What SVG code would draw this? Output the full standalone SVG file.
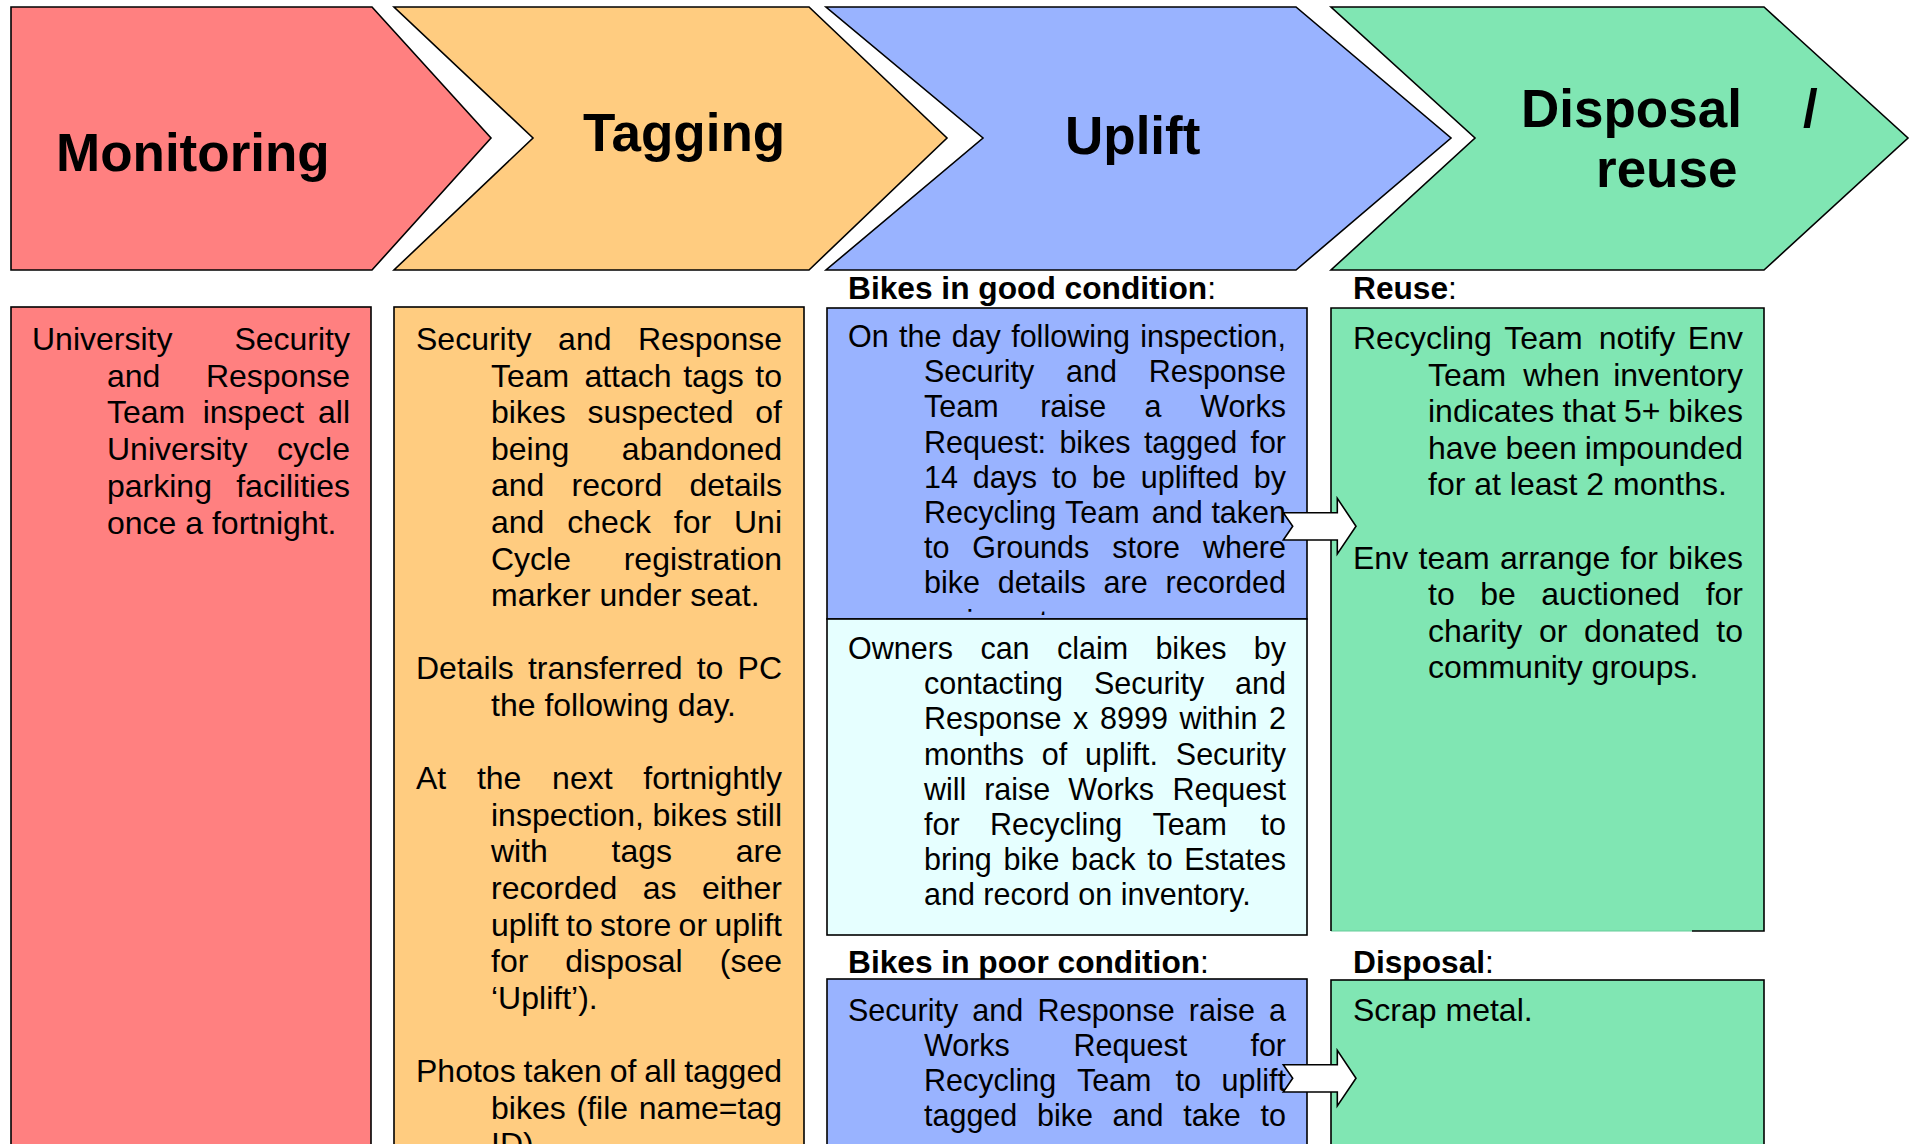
<svg xmlns="http://www.w3.org/2000/svg" width="1914" height="1144" viewBox="0 0 1914 1144">
<style>
text{font-family:"Liberation Sans",Arial,sans-serif;fill:#000}
.h{font-size:53px;font-weight:bold}
.t{font-size:32px}
.t3{font-size:30.5px}
.lbl{font-size:31.7px;font-weight:bold}
.lbl tspan.n{font-weight:normal}
.e{text-anchor:end}
.sh{stroke:#000;stroke-width:1.6;stroke-linejoin:miter}
.red{fill:#FF8080}
.org{fill:#FFCC80}
.blu{fill:#99B3FF}
.grn{fill:#80E6B3}
.cyn{fill:#E6FFFF}
.arr{fill:#fff;stroke:#000;stroke-width:1.6}
</style>
<defs>
<polygon id="blockArrow" points="0,-13.6 54,-13.6 54,-28 72.7,0 54,27.7 54,13.7 0,13.7 9.4,0"/>
<clipPath id="goodClip"><rect x="827" y="308" width="480" height="307"/></clipPath>
</defs>
<rect width="1914" height="1144" fill="#fff"/>

<g id="hdr-monitoring">
<polygon class="sh red" points="11,7 372,7 491,138 372,270 11,270"/>
<text class="h" x="56" y="171">Monitoring</text>
</g>
<g id="hdr-tagging">
<polygon class="sh org" points="394,7 809,7 947,138 809,270 394,270 533,138"/>
<text class="h" x="583" y="151">Tagging</text>
</g>
<g id="hdr-uplift">
<polygon class="sh blu" points="826,7 1296,7 1451,138 1296,270 826,270 983,138"/>
<text class="h" x="1065" y="154">Uplift</text>
</g>
<g id="hdr-disposal">
<polygon class="sh grn" points="1331,7 1764,7 1908,138 1764,270 1331,270 1475,138"/>
<text class="h" y="127"><tspan x="1521">Disposal</tspan><tspan x="1803">/</tspan></text>
<text class="h" x="1596" y="187">reuse</text>
</g>

<g id="box-monitoring">
<rect class="sh red" x="11" y="307" width="360" height="860"/>
<text class="t" y="350"><tspan x="32">University</tspan><tspan class="e" x="350">Security</tspan></text>
<text class="t" y="386.7"><tspan x="107">and</tspan><tspan class="e" x="350">Response</tspan></text>
<text class="t" y="423.4"><tspan x="107">Team</tspan><tspan x="202.7">inspect</tspan><tspan class="e" x="350">all</tspan></text>
<text class="t" y="460.1"><tspan x="107">University</tspan><tspan class="e" x="350">cycle</tspan></text>
<text class="t" y="496.8"><tspan x="107">parking</tspan><tspan class="e" x="350">facilities</tspan></text>
<text class="t" x="107" y="533.5">once a fortnight.</text>
</g>

<g id="box-tagging">
<rect class="sh org" x="394" y="307" width="410" height="860"/>
<text class="t" y="350"><tspan x="416">Security</tspan><tspan x="558.1">and</tspan><tspan class="e" x="782">Response</tspan></text>
<text class="t" y="386.6"><tspan x="491">Team</tspan><tspan x="584.4">attach</tspan><tspan x="683.2">tags</tspan><tspan class="e" x="782">to</tspan></text>
<text class="t" y="423.2"><tspan x="491">bikes</tspan><tspan x="587.6">suspected</tspan><tspan class="e" x="782">of</tspan></text>
<text class="t" y="459.8"><tspan x="491">being</tspan><tspan class="e" x="782">abandoned</tspan></text>
<text class="t" y="496.4"><tspan x="491">and</tspan><tspan x="571.6">record</tspan><tspan class="e" x="782">details</tspan></text>
<text class="t" y="533"><tspan x="491">and</tspan><tspan x="567.3">check</tspan><tspan x="673.8">for</tspan><tspan class="e" x="782">Uni</tspan></text>
<text class="t" y="569.6"><tspan x="491">Cycle</tspan><tspan class="e" x="782">registration</tspan></text>
<text class="t" x="491" y="606.2">marker under seat.</text>
<text class="t" y="679.4"><tspan x="416">Details</tspan><tspan x="527.9">transferred</tspan><tspan x="696.7">to</tspan><tspan class="e" x="782">PC</tspan></text>
<text class="t" x="491" y="716">the following day.</text>
<text class="t" y="789.2"><tspan x="416">At</tspan><tspan x="476.9">the</tspan><tspan x="552.1">next</tspan><tspan class="e" x="782">fortnightly</tspan></text>
<text class="t" y="825.8"><tspan x="491">inspection,</tspan><tspan x="652.5">bikes</tspan><tspan class="e" x="782">still</tspan></text>
<text class="t" y="862.4"><tspan x="491">with</tspan><tspan x="611.6">tags</tspan><tspan class="e" x="782">are</tspan></text>
<text class="t" y="899"><tspan x="491">recorded</tspan><tspan x="642.7">as</tspan><tspan class="e" x="782">either</tspan></text>
<text class="t" y="935.6"><tspan x="491">uplift</tspan><tspan x="566">to</tspan><tspan x="600.1">store</tspan><tspan x="678.6">or</tspan><tspan class="e" x="782">uplift</tspan></text>
<text class="t" y="972.2"><tspan x="491">for</tspan><tspan x="565.3">disposal</tspan><tspan class="e" x="782">(see</tspan></text>
<text class="t" x="491" y="1008.8">‘Uplift’).</text>
<text class="t" y="1082"><tspan x="416">Photos</tspan><tspan x="523.5">taken</tspan><tspan x="609.7">of</tspan><tspan x="644.3">all</tspan><tspan class="e" x="782">tagged</tspan></text>
<text class="t" y="1118.6"><tspan x="491">bikes</tspan><tspan x="576.5">(file</tspan><tspan class="e" x="782">name=tag</tspan></text>
<text class="t" x="491" y="1155.2">ID).</text>
</g>

<g id="label-good">
<text class="lbl" x="848" y="299.2">Bikes in good condition<tspan class="n">:</tspan></text>
</g>
<g id="box-good">
<rect class="sh blu" x="827" y="308" width="480" height="311"/>
<text class="t3" y="347"><tspan x="848">On</tspan><tspan x="899">the</tspan><tspan x="951.7">day</tspan><tspan x="1011.2">following</tspan><tspan class="e" x="1286">inspection,</tspan></text>
<text class="t3" y="382.2"><tspan x="924">Security</tspan><tspan x="1066">and</tspan><tspan class="e" x="1286">Response</tspan></text>
<text class="t3" y="417.4"><tspan x="924">Team</tspan><tspan x="1040.2">raise</tspan><tspan x="1144.5">a</tspan><tspan class="e" x="1286">Works</tspan></text>
<text class="t3" y="452.6"><tspan x="924">Request:</tspan><tspan x="1059.4">bikes</tspan><tspan x="1143.9">tagged</tspan><tspan class="e" x="1286">for</tspan></text>
<text class="t3" y="487.8"><tspan x="924">14</tspan><tspan x="972.7">days</tspan><tspan x="1051.9">to</tspan><tspan x="1092.1">be</tspan><tspan x="1140.8">uplifted</tspan><tspan class="e" x="1286">by</tspan></text>
<text class="t3" y="523"><tspan x="924">Recycling</tspan><tspan x="1065">Team</tspan><tspan x="1151.8">and</tspan><tspan class="e" x="1286">taken</tspan></text>
<text class="t3" y="558.2"><tspan x="924">to</tspan><tspan x="972.3">Grounds</tspan><tspan x="1112.2">store</tspan><tspan class="e" x="1286">where</tspan></text>
<text class="t3" y="593.4"><tspan x="924">bike</tspan><tspan x="997.7">details</tspan><tspan x="1103.6">are</tspan><tspan class="e" x="1286">recorded</tspan></text>
<text class="t3" x="924" y="632" clip-path="url(#goodClip)">on inventory.</text>
</g>
<g id="box-claim">
<rect class="sh cyn" x="827" y="619" width="480" height="316"/>
<text class="t3" y="659"><tspan x="848">Owners</tspan><tspan x="980.4">can</tspan><tspan x="1056.9">claim</tspan><tspan x="1155.4">bikes</tspan><tspan class="e" x="1286">by</tspan></text>
<text class="t3" y="694.2"><tspan x="924">contacting</tspan><tspan x="1094">Security</tspan><tspan class="e" x="1286">and</tspan></text>
<text class="t3" y="729.3"><tspan x="924">Response</tspan><tspan x="1073">x</tspan><tspan x="1100">8999</tspan><tspan x="1179.5">within</tspan><tspan class="e" x="1286">2</tspan></text>
<text class="t3" y="764.5"><tspan x="924">months</tspan><tspan x="1041.8">of</tspan><tspan x="1085">uplift.</tspan><tspan class="e" x="1286">Security</tspan></text>
<text class="t3" y="799.6"><tspan x="924">will</tspan><tspan x="984.2">raise</tspan><tspan x="1068.2">Works</tspan><tspan class="e" x="1286">Request</tspan></text>
<text class="t3" y="834.8"><tspan x="924">for</tspan><tspan x="989.9">Recycling</tspan><tspan x="1152.4">Team</tspan><tspan class="e" x="1286">to</tspan></text>
<text class="t3" y="869.9"><tspan x="924">bring</tspan><tspan x="1003.5">bike</tspan><tspan x="1071.1">back</tspan><tspan x="1147.2">to</tspan><tspan class="e" x="1286">Estates</tspan></text>
<text class="t3" x="924" y="905">and record on inventory.</text>
</g>

<g id="label-poor">
<text class="lbl" x="848" y="972.5">Bikes in poor condition<tspan class="n">:</tspan></text>
</g>
<g id="box-poor">
<rect class="sh blu" x="827" y="979" width="480" height="200"/>
<text class="t3" y="1021"><tspan x="848">Security</tspan><tspan x="972.3">and</tspan><tspan x="1037.4">Response</tspan><tspan x="1188.8">raise</tspan><tspan class="e" x="1286">a</tspan></text>
<text class="t3" y="1056"><tspan x="924">Works</tspan><tspan x="1073.6">Request</tspan><tspan class="e" x="1286">for</tspan></text>
<text class="t3" y="1091"><tspan x="924">Recycling</tspan><tspan x="1076.9">Team</tspan><tspan x="1175.6">to</tspan><tspan class="e" x="1286">uplift</tspan></text>
<text class="t3" y="1126"><tspan x="924">tagged</tspan><tspan x="1037">bike</tspan><tspan x="1112.6">and</tspan><tspan x="1183.2">take</tspan><tspan class="e" x="1286">to</tspan></text>
</g>

<g id="label-reuse">
<text class="lbl" x="1353" y="299.2">Reuse<tspan class="n">:</tspan></text>
</g>
<g id="box-reuse">
<rect class="grn" x="1331" y="308" width="433" height="623"/>
<path d="M1331,931 L1692,931" stroke="#66CC99" stroke-width="1.2" fill="none"/>
<path class="sh" d="M1331,931 L1331,308 L1764,308 L1764,931 L1692,931" fill="none"/>
<text class="t" y="349"><tspan x="1353">Recycling</tspan><tspan x="1504.3">Team</tspan><tspan x="1598.7">notify</tspan><tspan class="e" x="1743">Env</tspan></text>
<text class="t" y="385.6"><tspan x="1428">Team</tspan><tspan x="1523.2">when</tspan><tspan class="e" x="1743">inventory</tspan></text>
<text class="t" y="422.2"><tspan x="1428">indicates</tspan><tspan x="1562.4">that</tspan><tspan x="1623.9">5+</tspan><tspan class="e" x="1743">bikes</tspan></text>
<text class="t" y="458.8"><tspan x="1428">have</tspan><tspan x="1505.5">been</tspan><tspan class="e" x="1743">impounded</tspan></text>
<text class="t" x="1428" y="495.4">for at least 2 months.</text>
<text class="t" y="568.6"><tspan x="1353">Env</tspan><tspan x="1418.5">team</tspan><tspan x="1500">arrange</tspan><tspan x="1620.6">for</tspan><tspan class="e" x="1743">bikes</tspan></text>
<text class="t" y="605.2"><tspan x="1428">to</tspan><tspan x="1480.2">be</tspan><tspan x="1541.3">auctioned</tspan><tspan class="e" x="1743">for</tspan></text>
<text class="t" y="641.8"><tspan x="1428">charity</tspan><tspan x="1538.9">or</tspan><tspan x="1584">donated</tspan><tspan class="e" x="1743">to</tspan></text>
<text class="t" x="1428" y="678.4">community groups.</text>
</g>

<g id="label-disposal">
<text class="lbl" x="1353" y="972.5">Disposal<tspan class="n">:</tspan></text>
</g>
<g id="box-disposal">
<rect class="sh grn" x="1331" y="980" width="433" height="200"/>
<text class="t" x="1353" y="1021">Scrap metal.</text>
</g>

<g id="connectors">
<use href="#blockArrow" class="arr" transform="translate(1283.3,526.3)"/>
<use href="#blockArrow" class="arr" transform="translate(1283.3,1078.3)"/>
</g>
</svg>
